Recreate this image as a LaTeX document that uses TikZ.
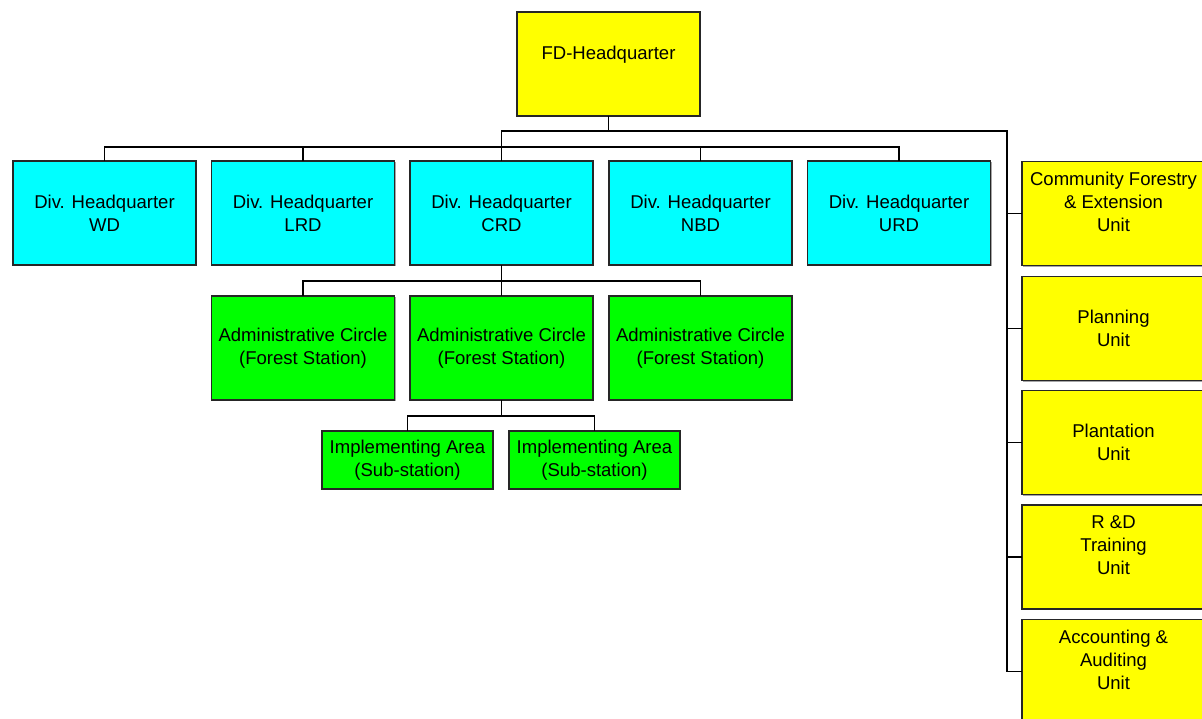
\documentclass[tikz,border=0pt]{standalone}
\usepackage{fontspec}
\setmainfont{Liberation Sans}
\usetikzlibrary{shadows}
\definecolor{ylw}{HTML}{FFFF00}
\definecolor{cyn}{HTML}{00FFFF}
\definecolor{grn}{HTML}{00FF00}
\tikzset{
  box/.style={draw=black!85, line width=0.9pt, inner sep=0pt, outer sep=0pt,
    minimum width=137.25pt, minimum height=78pt, align=center,
    font=\fontsize{13.9}{17.25}\selectfont,
    drop shadow={shadow xshift=1pt, shadow yshift=-1pt, opacity=1, fill=black!35}},
  ybox/.style={box, fill=ylw},
  cbox/.style={box, fill=cyn},
  gbox/.style={box, fill=grn},
  ibox/.style={box, fill=grn, minimum width=128.25pt, minimum height=43.5pt},
  conn/.style={draw=black, line width=0.8pt}
}
\begin{document}
\begin{tikzpicture}[x=0.75pt, y=-0.75pt]
\useasboundingbox (0,0) rectangle (1202,718);
\fill[white] (0,0) rectangle (1202,718);
% top
\node[ybox] (fd) at (608.5,64) {FD-Headquarter\\\mbox{}};
% divisions
\node[cbox] (wd)  at (104.5,213) {Div. Headquarter\\WD};
\node[cbox] (lrd) at (303,213) {Div. Headquarter\\LRD};
\node[cbox] (crd) at (501.5,213) {Div. Headquarter\\CRD};
\node[cbox] (nbd) at (700.5,213) {Div. Headquarter\\NBD};
\node[cbox] (urd) at (899,213) {Div. Headquarter\\URD};
% admin circles
\node[gbox] (ad1) at (303,348) {Administrative Circle\\(Forest Station)};
\node[gbox] (ad2) at (501.5,348) {Administrative Circle\\(Forest Station)};
\node[gbox] (ad3) at (700.5,348) {Administrative Circle\\(Forest Station)};
% implementing areas
\node[ibox] (im1) at (407.5,460) {Implementing Area\\(Sub-station)};
\node[ibox] (im2) at (594.5,460) {Implementing Area\\(Sub-station)};
% units
\node[ybox] (cf)  at (1113.5,213.5) {Community Forestry\\\& Extension\\Unit\\\mbox{}};
\node[ybox] (pl)  at (1113.5,328.5) {Planning\\Unit};
\node[ybox] (pt)  at (1113.5,442.5) {Plantation\\Unit};
\node[ybox] (rd)  at (1113.5,557) {R \&D\\Training\\Unit\\\mbox{}};
\node[ybox] (ac)  at (1113.5,671.5) {Accounting \&\\Auditing\\Unit\\\mbox{}};
% bus coordinates
\coordinate (tb) at (501.5,131);
\coordinate (rt) at (1007,131);
\coordinate (db) at (0,147);
\coordinate (ab) at (0,281);
\coordinate (ib) at (0,416);
% connectors
\draw[conn] (fd.south) -- (fd.south |- tb) -- (tb) -- (crd.north);
\draw[conn] (fd.south |- tb) -- (rt) -- (rt |- ac.west);
\draw[conn] (wd.north) -- (wd.north |- db) -- (urd.north |- db) -- (urd.north);
\draw[conn] (lrd.north) -- (lrd.north |- db);
\draw[conn] (nbd.north) -- (nbd.north |- db);
\foreach \u in {cf,pl,pt,rd,ac} \draw[conn] (rt |- \u.west) -- (\u.west);
\draw[conn] (crd.south) -- (crd.south |- ab);
\draw[conn] (ad1.north) -- (ad1.north |- ab) -- (ad3.north |- ab) -- (ad3.north);
\draw[conn] (ad2.north) -- (ad2.north |- ab);
\draw[conn] (ad2.south) -- (ad2.south |- ib);
\draw[conn] (im1.north) -- (im1.north |- ib) -- (im2.north |- ib) -- (im2.north);
\end{tikzpicture}
\end{document}
